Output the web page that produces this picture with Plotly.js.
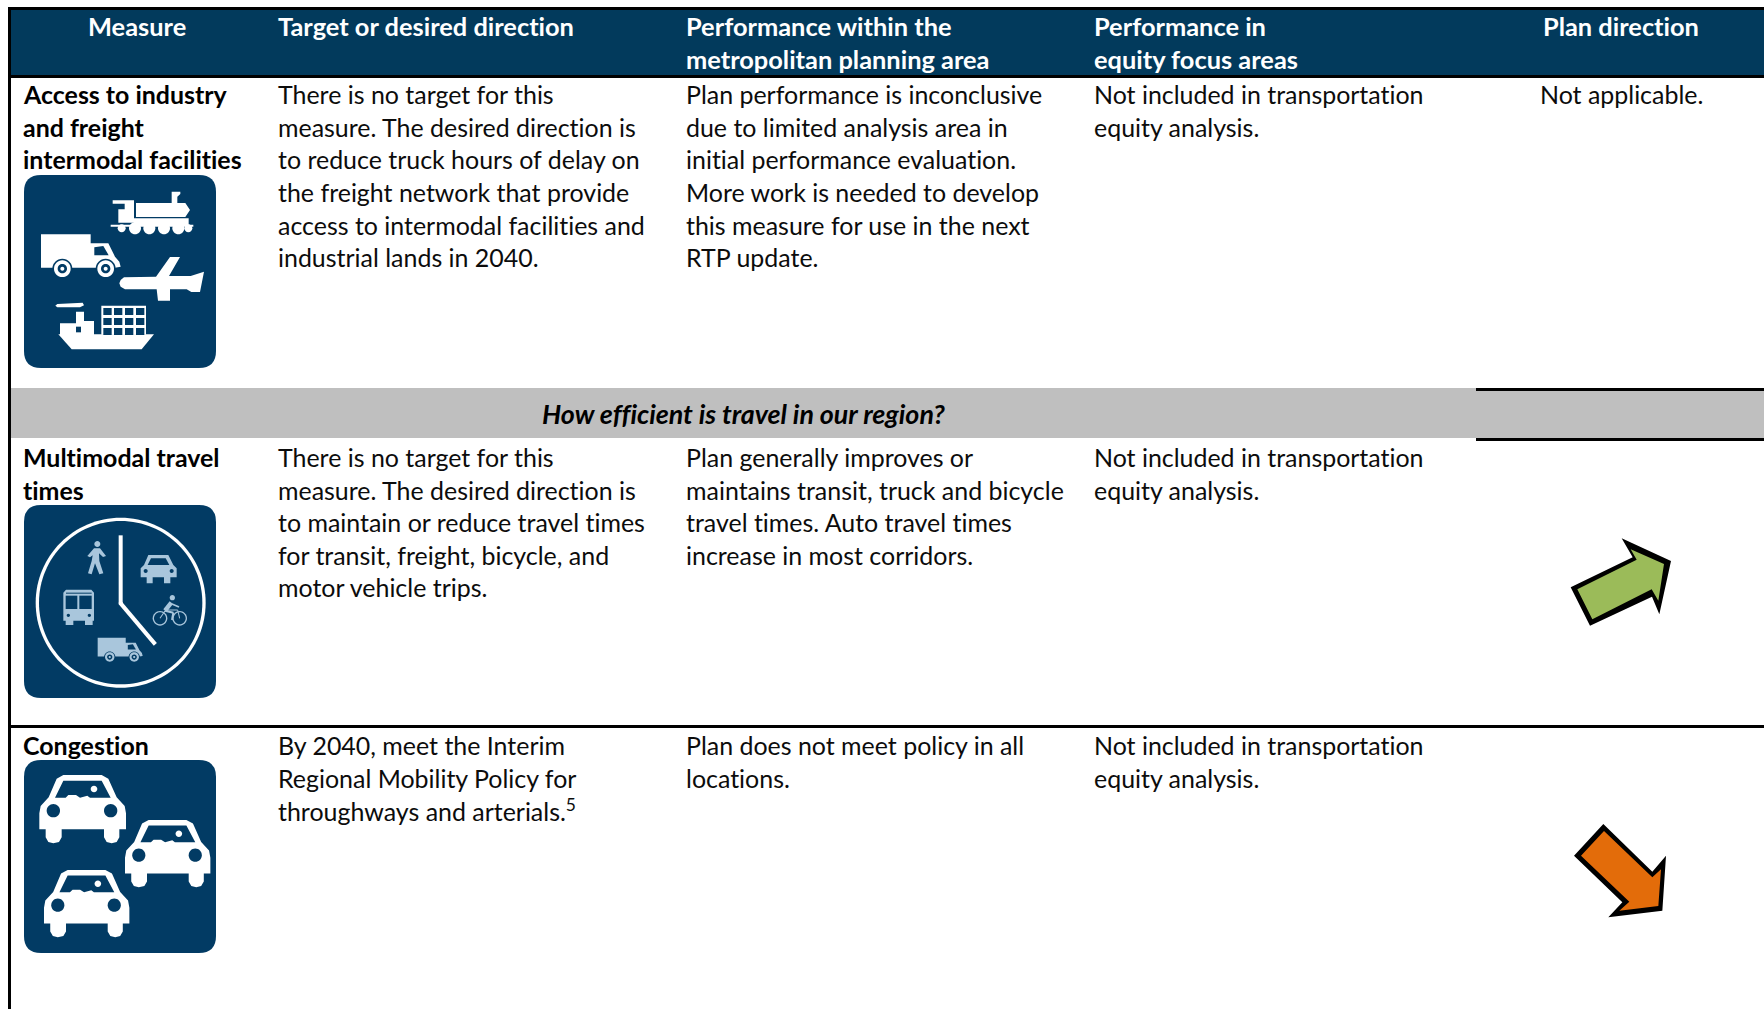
<!DOCTYPE html>
<html><head><meta charset="utf-8">
<script src="https://cdn.plot.ly/plotly-3.0.1.min.js"></script>
<style>html,body{margin:0;padding:0;background:#fff}#c{width:1764px;height:1009px}
svg text{font-variant-ligatures:none;font-feature-settings:"liga" 0}</style>
</head><body><div id="c"></div>
<script>
// ---- table content ----
const headerMeasure = ["Measure"];
const headerTarget = ["Target or desired direction"];
const headerMpa = ["Performance within the", "metropolitan planning area"];
const headerEquity = ["Performance in", "equity focus areas"];
const headerPlan = ["Plan direction"];
const bandText = "How efficient is travel in our region?";
const measure1 = ["Access to industry", "and freight", "intermodal facilities"];
const target1 = ["There is no target for this", "measure. The desired direction is", "to reduce truck hours of delay on", "the freight network that provide", "access to intermodal facilities and", "industrial lands in 2040."];
const mpa1 = ["Plan performance is inconclusive", "due to limited analysis area in", "initial performance evaluation.", "More work is needed to develop", "this measure for use in the next", "RTP update."];
const equity1 = ["Not included in transportation", "equity analysis."];
const plan1 = ["Not applicable."];
const measure2 = ["Multimodal travel", "times"];
const target2 = ["There is no target for this", "measure. The desired direction is", "to maintain or reduce travel times", "for transit, freight, bicycle, and", "motor vehicle trips."];
const mpa2 = ["Plan generally improves or", "maintains transit, truck and bicycle", "travel times. Auto travel times", "increase in most corridors."];
const equity2 = ["Not included in transportation", "equity analysis."];
const measure3 = ["Congestion"];
const target3 = ["By 2040, meet the Interim", "Regional Mobility Policy for", "throughways and arterials.<sup>5</sup>"];
const mpa3 = ["Plan does not meet policy in all", "locations."];
const equity3 = ["Not included in transportation", "equity analysis."];

// ---- style ----
const NAVY = "#023a5c", ICON = "#023b64", GREY = "#bfbfbf", PALE = "#a9c6dc", WHITE = "#ffffff", BLACK = "#000000";
const FONT = "Lato, Carlito, sans-serif";
const SIZE = 24.95, HEAD = 25.4, BAND = 26.8, LEAD = 32.55;
const COLX = [22.5, 277, 685, 1093];
const shapes = [], annotations = [];

// ---- drawing helpers ----
const n = v => v.toFixed(2);
function add(path, color) { shapes.push({type:"path", xref:"x", yref:"y", path, fillcolor:color, line:{width:0}, layer:"above"}); }
function rect(x0,y0,x1,y1,color){ add(`M${x0} ${y0}L${x1} ${y0}L${x1} ${y1}L${x0} ${y1}Z`, color); }
function rrect(x0,y0,x1,y1,r,color){
  add(`M${n(x0+r)} ${n(y0)}L${n(x1-r)} ${n(y0)}Q${n(x1)} ${n(y0)} ${n(x1)} ${n(y0+r)}L${n(x1)} ${n(y1-r)}Q${n(x1)} ${n(y1)} ${n(x1-r)} ${n(y1)}L${n(x0+r)} ${n(y1)}Q${n(x0)} ${n(y1)} ${n(x0)} ${n(y1-r)}L${n(x0)} ${n(y0+r)}Q${n(x0)} ${n(y0)} ${n(x0+r)} ${n(y0)}Z`, color);
}
// A "frame" maps crop-style units (3 per pixel) on to the page
function frame(ox,oy,s=1/3,bx=0,by=0){
  const X=v=>ox+(v-bx)*s, Y=v=>oy+(v-by)*s;
  const f={
    poly(pts,c){ add("M"+pts.map(p=>n(X(p[0]))+" "+n(Y(p[1]))).join("L")+"Z",c); },
    circle(cx,cy,r,c){
      const k=0.5523*r;
      const P=(a,b)=>n(X(a))+" "+n(Y(b));
      add(`M${P(cx-r,cy)}C${P(cx-r,cy-k)} ${P(cx-k,cy-r)} ${P(cx,cy-r)}C${P(cx+k,cy-r)} ${P(cx+r,cy-k)} ${P(cx+r,cy)}C${P(cx+r,cy+k)} ${P(cx+k,cy+r)} ${P(cx,cy+r)}C${P(cx-k,cy+r)} ${P(cx-r,cy+k)} ${P(cx-r,cy)}Z`,c);
    },
    ring(cx,cy,r,w,c,bg){ f.circle(cx,cy,r+w/2,c); f.circle(cx,cy,r-w/2,bg); },
    box(a,b,c0,d,c){ f.poly([[a,b],[c0,b],[c0,d],[a,d]],c); },
    stroke(pts,w,c){
      for(let i=0;i<pts.length-1;i++){
        const [x0,y0]=pts[i],[x1,y1]=pts[i+1],dx=x1-x0,dy=y1-y0,l=Math.hypot(dx,dy),nx=-dy/l*w/2,ny=dx/l*w/2;
        f.poly([[x0+nx,y0+ny],[x1+nx,y1+ny],[x1-nx,y1-ny],[x0-nx,y0-ny]],c);
      }
    }
  };
  return f;
}
function truck(f,c,bg){
  f.poly([[123,703],[272,703],[272,730],[325,730],[345,770],[358,785],[362,800],[345,803],[123,803]],c);
  f.poly([[283,742],[310,738],[326,766],[283,766]],bg);
  f.circle(187,806,30,bg); f.circle(317,806,30,bg);
  f.circle(187,806,25,c); f.circle(317,806,25,c);
  f.circle(187,806,14,bg); f.circle(317,806,14,bg);
  f.circle(187,806,6,c); f.circle(317,806,6,c);
}
function car(f,c,bg){
  f.poly([[170,176],[190,165],[305,165],[325,176],[350,232],[374,258],[378,280],[378,328],[358,328],[358,352],[350,366],[335,370],[320,366],[312,352],[312,328],[185,328],[185,352],[177,366],[160,370],[145,366],[137,352],[137,328],[118,328],[118,280],[122,258],[146,232]],c);
  f.poly([[165,233],[190,182],[305,182],[332,233],[270,233],[262,227],[240,233],[228,225],[205,225],[197,233]],bg);
  f.circle(160,272,20,bg); f.circle(332,272,20,bg); f.circle(282,207,10,c);
}

// ---- frame of the table ----
rect(8,7,1764,10,BLACK);
rect(11,10,1764,75,NAVY);
rect(8,75,1764,78,BLACK);
rect(11,388,1764,438,GREY);
rect(1476,388,1764,391,BLACK);
rect(1476,438,1764,441,BLACK);
rect(8,725,1764,728,BLACK);
rect(8,7,11,1009,BLACK);

// ---- icon 1: freight ----
rrect(24,175,216,368,17,ICON);
{
  const f=frame(0,0);
  // train
  f.poly([[338,601],[402,601],[402,668],[355,668],[355,628],[374,628],[374,611],[338,611]],WHITE);
  f.poly([[408,609],[515,609],[515,575],[541,575],[541,582],[532,590],[532,609],[556,609],[570,630],[556,651],[408,651]],WHITE);
  f.box(402,655,566,676,WHITE);
  f.box(332,674,580,680,WHITE);
  [365,405,448,492,535,565].forEach((x,i)=>f.circle(x,685,i===0||i===5?12:18,WHITE));
  // lorry
  truck(f,WHITE,ICON);
  // plane
  f.poly([[372,832],[468,830],[510,771],[540,771],[507,828],[572,828],[612,815],[600,876],[574,876],[560,868],[510,868],[510,902],[474,902],[470,868],[375,868],[362,860],[358,850],[362,840]],WHITE);
  // ship
  f.poly([[175,1003],[462,1003],[425,1048],[215,1048]],WHITE);
  f.poly([[180,1005],[180,970],[228,970],[228,935],[252,935],[252,963],[282,963],[282,1005]],WHITE);
  f.box(228,980,243,997,ICON);
  f.poly([[172,912],[248,908],[252,916],[240,922],[172,922],[166,917]],WHITE);
  f.box(304,917,438,1004,WHITE);
  [310,342,375,408].forEach(x=>[924,954,984].forEach(y=>f.box(x,y,x+25,y+21,ICON)));
}

// ---- icon 2: clock ----
rrect(24,505,216,698,17,ICON);
{
  const f=frame(0,430);
  f.ring(362,518,250,10,WHITE,ICON);
  f.stroke([[362,316],[362,520]],12,WHITE);
  f.stroke([[360,518],[466,643]],12,WHITE);
  f.circle(362,520,6,WHITE);
  // pedestrian
  f.circle(292,342,9,PALE);
  f.poly([[282,355],[300,355],[318,378],[309,381],[297,370],[298,393],[310,430],[298,433],[285,400],[275,433],[264,430],[275,393],[278,376],[270,382],[262,378]],PALE);
  // car
  f.poly([[445,375],[505,375],[520,405],[530,415],[530,442],[511,442],[511,460],[492,460],[492,442],[458,442],[458,460],[440,460],[440,442],[422,442],[422,415],[432,405]],PALE);
  f.poly([[443,405],[453,385],[497,385],[508,405]],ICON);
  f.circle(437,423,6,ICON); f.circle(515,423,6,ICON);
  // bus
  f.poly([[198,479],[274,479],[282,488],[282,572],[278,572],[278,585],[255,585],[255,572],[220,572],[220,585],[197,585],[197,572],[190,572],[190,488]],PALE);
  f.box(197,497,232,537,ICON); f.box(238,497,275,537,ICON); f.box(198,488,275,491,ICON);
  f.circle(205,556,5,ICON); f.circle(268,556,5,ICON);
  // bicycle
  f.ring(480,565,20,4,PALE,ICON); f.ring(539,565,20,4,PALE,ICON);
  f.circle(517,503,8,PALE);
  f.stroke([[514,518],[495,542]],13,PALE);
  f.stroke([[516,522],[537,531]],5,PALE);
  f.stroke([[495,542],[520,548],[516,570]],6,PALE);
  f.stroke([[480,565],[497,540],[533,540],[539,565]],3,PALE);
  // lorry
  truck(frame(293/3,430+623/3,0.565/3,123,703),PALE,ICON);
}

// ---- icon 3: congestion ----
rrect(24,760,216,953,17,ICON);
car(frame(0,720),WHITE,ICON);
car(frame(125,820,0.985/3,118,165),WHITE,ICON);
car(frame(44,870,0.985/3,118,165),WHITE,ICON);

// ---- plan direction arrows ----
{
  const g=frame(1440,370);
  g.poly([[392,652],[578,562],[545,505],[693,573],[658,733],[636,680],[450,767]],BLACK);
  g.poly([[412,658],[590,569],[572,538],[672,582],[655,692],[635,658],[457,748]],"#9bbb59");
  const o=frame(1500,790);
  o.poly([[310,102],[457,245],[498,197],[487,362],[325,382],[367,337],[222,197]],BLACK);
  o.poly([[312,123],[457,262],[483,238],[475,348],[358,362],[388,335],[243,197]],"#e36c0a");
}

// ---- text ----
function lines(list,x,y,opt={}){
  list.forEach((t,i)=>annotations.push({
    xref:"x",yref:"y",x,y:y+i*(opt.lead||LEAD),text:opt.wrap?opt.wrap(t):t,showarrow:false,
    xanchor:opt.anchor||"left",yanchor:"middle",align:opt.anchor==="center"?"center":"left",
    borderpad:0,
    font:{family:FONT,size:opt.size||SIZE,color:opt.color||"#0c0c0c"}
  }));
}
const bold=t=>"<b>"+t+"</b>";
const H={color:WHITE,wrap:bold,lead:33,size:HEAD};
lines(headerMeasure,137,26,{...H,anchor:"center"});
lines(headerTarget,COLX[1],26,H);
lines(headerMpa,COLX[2],26,H);
lines(headerEquity,COLX[3],26,H);
lines(headerPlan,1621,26,{...H,anchor:"center"});

lines(measure1,COLX[0]-0.5,94.3,{wrap:bold,color:BLACK});
lines(target1,COLX[1],94.3);
lines(mpa1,COLX[2],94.3);
lines(equity1,COLX[3],94.3);
lines(plan1,1621,94.3,{anchor:"center"});

annotations.push({xref:"x",yref:"y",x:743,y:413.7,text:"<b><i>"+bandText+"</i></b>",showarrow:false,xanchor:"center",yanchor:"middle",borderpad:0,font:{family:FONT,size:BAND,color:BLACK}});

lines(measure2,COLX[0]-0.5,457.1,{wrap:bold,color:BLACK});
lines(target2,COLX[1],457.1);
lines(mpa2,COLX[2],457.1);
lines(equity2,COLX[3],457.1);

lines(measure3,COLX[0]-0.5,745,{wrap:bold,color:BLACK});
lines(target3,COLX[1],745);
lines(mpa3,COLX[2],745);
lines(equity3,COLX[3],745);

Plotly.newPlot("c",[],{
  width:1764,height:1009,margin:{l:0,r:0,t:0,b:0,pad:0},
  paper_bgcolor:WHITE,plot_bgcolor:WHITE,showlegend:false,
  xaxis:{range:[0,1764],visible:false,fixedrange:true},
  yaxis:{range:[1009,0],visible:false,fixedrange:true},
  shapes,annotations
},{displayModeBar:false,staticPlot:true});
</script></body></html>
